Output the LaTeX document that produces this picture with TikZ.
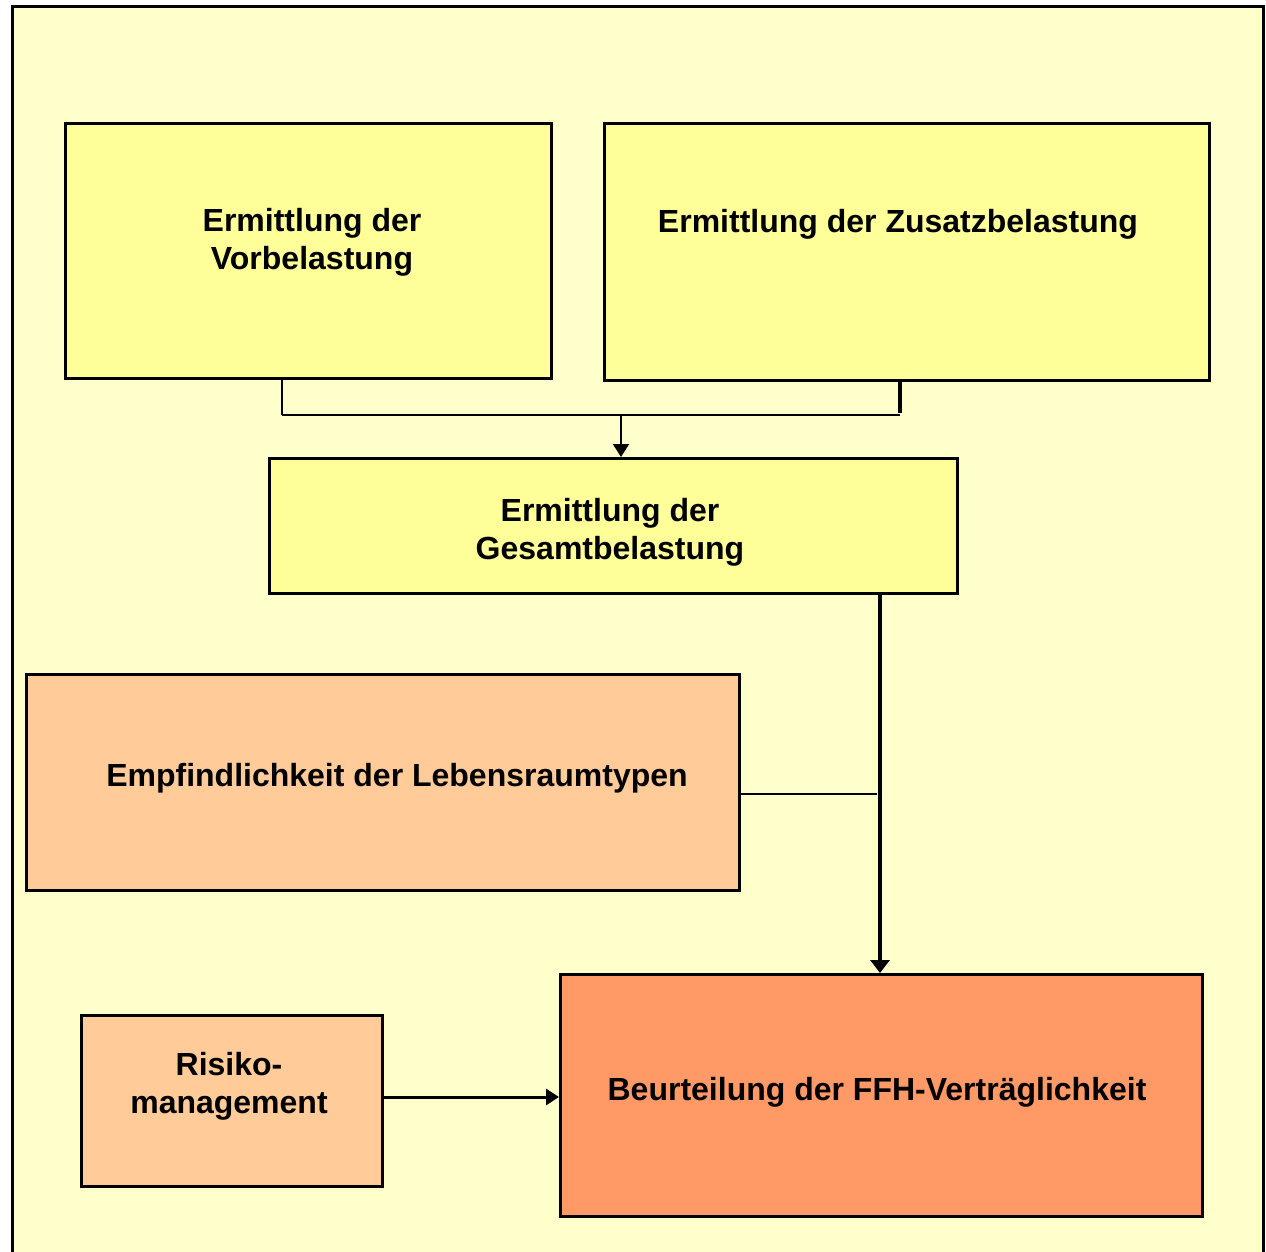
\documentclass[tikz,border=0pt]{standalone}
\usepackage{fontspec}
\setmainfont{Liberation Sans}
\usetikzlibrary{arrows.meta}
\definecolor{bgc}{HTML}{FFFFCC}
\definecolor{yelbox}{HTML}{FFFF99}
\definecolor{peach}{HTML}{FFCC99}
\definecolor{salmon}{HTML}{FF9966}
\begin{document}
\begin{tikzpicture}[x=1pt,y=-1pt,
  box/.style={draw=black, line width=3pt, inner sep=0pt, anchor=north west},
  lbl/.style={font=\bfseries\fontsize{32}{38}\selectfont, align=center, inner sep=0pt},
  conn/.style={line width=2.4pt},
  thinconn/.style={line width=2pt},
  tip/.style={-{Triangle[length=13pt,width=16pt]}}]
\useasboundingbox (0,0) rectangle (1266,1252);
\fill[white] (0,0) rectangle (1266,1252);
\fill[bgc] (12,7) rectangle (1263,1260);
\draw[line width=3pt] (12,1262) -- (12,7) -- (1263,7) -- (1263,1262);

% boxes
\node[box, fill=yelbox, minimum width=486, minimum height=255] (vor) at (64,122) {};
\node[box, fill=yelbox, minimum width=605, minimum height=257] (zus) at (603,122) {};
\node[box, fill=yelbox, line width=2.6pt, minimum width=688, minimum height=135] (ges) at (268,457) {};
\node[box, fill=peach, minimum width=713, minimum height=216] (emp) at (25,673) {};
\node[box, fill=peach, line width=2.6pt, minimum width=301, minimum height=171] (ris) at (80,1014) {};
\node[box, fill=salmon, minimum width=642, minimum height=242] (beu) at (559,973) {};

% labels
\node[lbl] (tvor) at (312,242) {Ermittlung der\\Vorbelastung};
\node[lbl] (tzus) at (898,224) {Ermittlung der Zusatzbelastung};
\node[lbl] (tges) at (610,532) {Ermittlung der\\Gesamtbelastung};
\node[lbl] (temp) at (397,778) {Empfindlichkeit der Lebensraumtypen};
\node[lbl] (tris) at (229,1086) {Risiko-\\management};
\node[lbl] (tbeu) at (877,1092) {Beurteilung der FFH-Verträglichkeit};

% connectors
\coordinate (jl) at (282,415);
\coordinate (jr) at (900,415);
\coordinate (jm) at (621,415);
\draw[conn] (vor.south -| jl) -- (jl);
\draw[line width=3.2pt] (zus.south -| jr) -- (900,413);
\draw[line width=2.8pt] (jl) -- (jr);
\draw[thinconn, tip] (jm) -- (ges.north -| jm);
\draw[line width=3.2pt, -{Triangle[length=13pt,width=19pt]}] (ges.south -| 880,0) -- (beu.north -| 880,0);
\coordinate (ej) at (877,794);
\draw[thinconn] (emp.east |- ej) -- (ej);
\draw[line width=3pt, tip] (ris.east |- 0,1097) -- (beu.west |- 0,1097);
\end{tikzpicture}
\end{document}
